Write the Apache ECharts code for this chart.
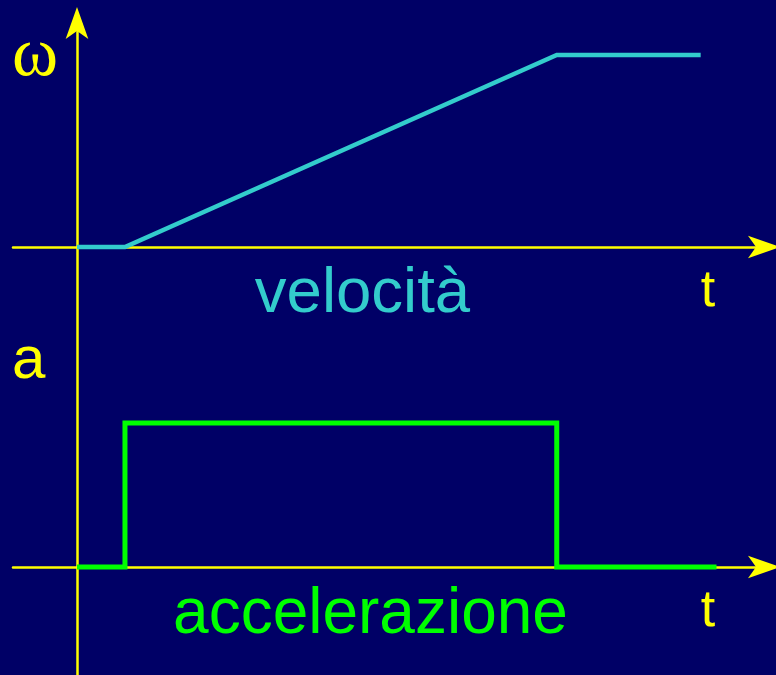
<!DOCTYPE html>
<html>
<head>
<meta charset="utf-8">
<script src="https://cdn.jsdelivr.net/npm/echarts@6/dist/echarts.min.js"></script>
<style>
html,body{margin:0;padding:0;background:#000066;}
#c{width:776px;height:675px;}
</style>
</head>
<body>
<div id="c"></div>
<script>
// Velocity (omega) profile: time and value pairs
var velTime = [0, 1, 10, 13];
var velValue = [0, 0, 9, 9];
// Acceleration profile
var accTime = [0, 1, 1, 10, 10, 13.33];
var accValue = [0, 0, 1, 1, 0, 0];
// Labels
var labelOmega = 'ω';
var labelVel = 'velocità';
var labelA = 'a';
var labelAcc = 'accelerazione';
var labelT = 't';

var velData = velTime.map(function (t, i) { return [t, velValue[i]]; });
var accData = accTime.map(function (t, i) { return [t, accValue[i]]; });

var yellow = '#FFFF00';
var chart = echarts.init(document.getElementById('c'), null, {renderer: 'canvas'});

function xAx(zeroIdx) {
  return {
    type: 'value', min: -1.334, max: 14.32,
    axisLine: {show: true, onZero: true, onZeroAxisIndex: zeroIdx,
      lineStyle: {color: yellow, width: 2.5},
      symbol: ['none', 'arrow'], symbolSize: [17, 32], symbolOffset: [0, 16]},
    axisTick: {show: false}, axisLabel: {show: false}, splitLine: {show: false}
  };
}

chart.setOption({
  animation: false,
  backgroundColor: '#000066',
  grid: {left: 13, right: 12, top: 23, bottom: 0, containLabel: false},
  xAxis: [xAx(0), xAx(1)],
  yAxis: [
    {
      type: 'value', min: -20.06, max: 10.5,
      axisLine: {show: true, onZero: true, onZeroAxisIndex: 0,
        lineStyle: {color: yellow, width: 2.5},
        symbol: ['none', 'arrow'], symbolSize: [17, 32], symbolOffset: [0, 16]},
      axisTick: {show: false}, axisLabel: {show: false}, splitLine: {show: false}
    },
    {
      type: 'value', min: -0.75, max: 3.778, show: false,
      axisLine: {show: false}, axisTick: {show: false}, axisLabel: {show: false}, splitLine: {show: false}
    }
  ],
  series: [
    {type: 'line', xAxisIndex: 0, yAxisIndex: 0, data: velData, symbol: 'none',
      lineStyle: {color: '#33CCCC', width: 4.5, cap: 'butt', join: 'miter'}, z: 3},
    {type: 'line', xAxisIndex: 1, yAxisIndex: 1, data: accData, symbol: 'none',
      lineStyle: {color: '#00FF00', width: 5, cap: 'butt', join: 'miter'}, z: 3}
  ],
  graphic: [
    {type: 'text', style: {text: labelOmega, x: 12, y: 57, font: '70px "Liberation Serif", serif', fill: yellow, textAlign: 'left', textVerticalAlign: 'middle'}},
    {type: 'text', style: {text: labelVel, x: 362.5, y: 294, font: '63.5px "Liberation Sans", Arial, sans-serif', fill: '#33CCCC', textAlign: 'center', textVerticalAlign: 'middle'}},
    {type: 'text', style: {text: labelT, x: 708, y: 292, font: '52px "Liberation Sans", Arial, sans-serif', fill: yellow, textAlign: 'center', textVerticalAlign: 'middle'}},
    {type: 'text', style: {text: labelA, x: 12, y: 361, font: '60px "Liberation Sans", Arial, sans-serif', fill: yellow, textAlign: 'left', textVerticalAlign: 'middle'}},
    {type: 'text', style: {text: labelAcc, x: 370.5, y: 615, font: '64px "Liberation Sans", Arial, sans-serif', fill: '#00FF00', textAlign: 'center', textVerticalAlign: 'middle'}},
    {type: 'text', style: {text: labelT, x: 708, y: 612, font: '52px "Liberation Sans", Arial, sans-serif', fill: yellow, textAlign: 'center', textVerticalAlign: 'middle'}}
  ]
});
</script>
</body>
</html>
